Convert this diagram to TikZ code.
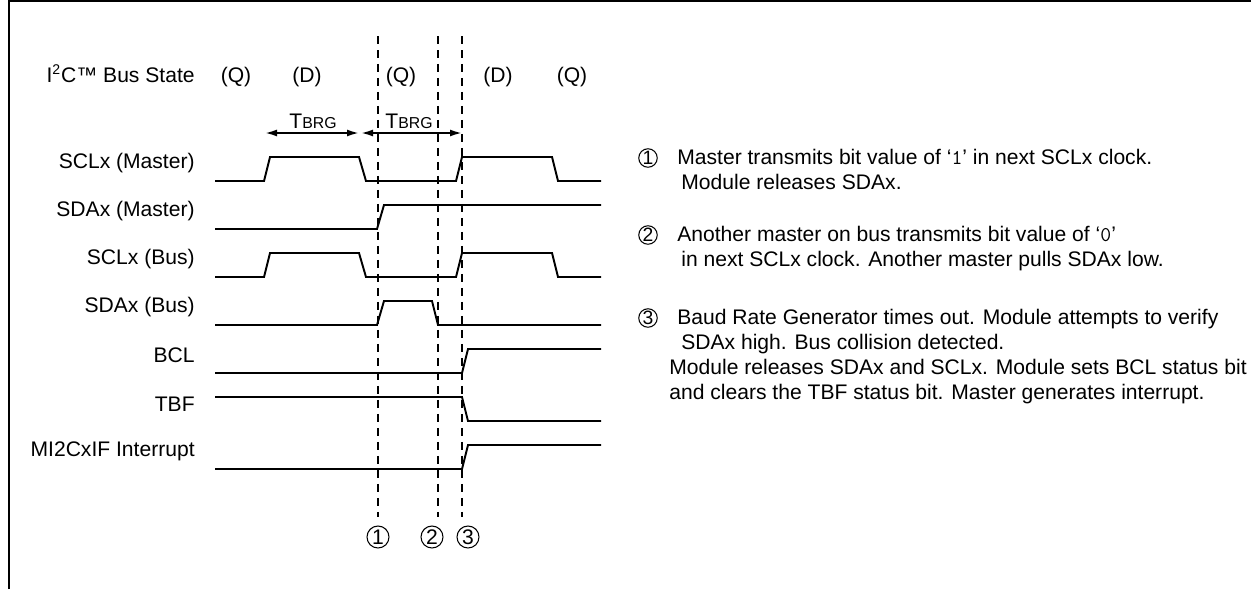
\documentclass[tikz,border=0pt]{standalone}
\usepackage{fontspec}
\setmainfont{Liberation Sans}
\usetikzlibrary{arrows.meta}

\newcommand{\tbrg}{T{\fontsize{9}{10}\selectfont BRG}}

\begin{document}
\begin{tikzpicture}[
    x=0.02cm, y=-0.02cm,
    txt/.style={inner sep=0pt, font=\fontsize{12}{14}\selectfont},
    siglabel/.style={txt, anchor=east},
    note/.style={txt, anchor=base west},
    numcirc/.style={circle, draw, line width=0.6pt, inner sep=0pt, minimum size=0.44cm, font=\fontsize{12}{12}\selectfont},
    smallcirc/.style={numcirc, minimum size=0.37cm, font=\fontsize{11}{11}\selectfont},
    wave/.style={line width=1.1pt, line join=miter},
    guide/.style={line width=1.1pt, dash pattern=on 0.16cm off 0.12cm},
    timing/.style={line width=1.1pt, {Latex[length=0.24cm,width=0.14cm]}-{Latex[length=0.24cm,width=0.14cm]}},
]
\useasboundingbox (0,0) rectangle (1251,589);

% frame
\draw[line width=1.2pt] (9,589) -- (9,1) -- (1251,1);

% bus state row
\node[txt, anchor=base east] (busstate) at (195,82) {I\textsuperscript{2}C™ Bus State};
\foreach \x/\s [count=\i] in {236/Q, 307/D, 401/Q, 498/D, 572/Q}
    \node[txt, anchor=base] (st\i) at (\x,82) {(\s)};

% baud rate generator periods
\node[txt] (tbrga) at (313,121) {\tbrg};
\node[txt] (tbrgb) at (409,121) {\tbrg};
\coordinate (ta1) at (265,133);
\coordinate (ta2) at (359,133);
\coordinate (tb1) at (361,133);
\coordinate (tb2) at (462,133);
\draw[timing] (ta1) -- (ta2);
\draw[timing] (tb1) -- (tb2);

% signal names
\node[siglabel] (sclm) at (195,163) {SCLx (Master)};
\node[siglabel] (sdam) at (195,211) {SDAx (Master)};
\node[siglabel] (sclb) at (195,259) {SCLx (Bus)};
\node[siglabel] (sdab) at (195,307) {SDAx (Bus)};
\node[siglabel] (bcl) at (195,355) {BCL};
\node[siglabel] (tbf) at (195,404) {TBF};
\node[siglabel] (mif) at (195,451) {MI2CxIF Interrupt};

% waveforms
\draw[wave] (215,181) -- (264,181) -- (270,157) -- (359,157) -- (366,181) -- (456,181)
    -- (462,157) -- (552,157) -- (558,181) -- (601,181);
\draw[wave] (215,229) -- (377,229) -- (384,205) -- (601,205);
\draw[wave] (215,277) -- (264,277) -- (270,253) -- (359,253) -- (366,277) -- (456,277)
    -- (462,253) -- (552,253) -- (558,277) -- (601,277);
\draw[wave] (215,325) -- (377,325) -- (384,301) -- (432,301) -- (438,325) -- (601,325);
\draw[wave] (215,373) -- (462,373) -- (468,349) -- (601,349);
\draw[wave] (215,397) -- (462,397) -- (468,421) -- (601,421);
\draw[wave] (215,469) -- (462,469) -- (468,445) -- (601,445);

% event markers
\foreach \x [count=\i] in {378, 438, 462} {
    \coordinate (gtop\i) at (\x,36);
    \coordinate (gbot\i) at (\x,517);
    \draw[guide] (gtop\i) -- (gbot\i);
}
\node[numcirc] (c1) at (378,537) {1};
\node[numcirc] (c2) at (432,537) {2};
\node[numcirc] (c3) at (468,537) {3};

% notes
\node[smallcirc] (n1) at (648,158) {1};
\node[note] (n1a) at (677,164) {Master transmits bit value of ‘\texttt{1}’ in next SCLx clock.};
\node[note] (n1b) at (681,189) {Module releases SDAx.};
\node[smallcirc] (n2) at (648,235) {2};
\node[note] (n2a) at (677,241) {Another master on bus transmits bit value of ‘\texttt{0}’};
\node[note] (n2b) at (681,266) {in next SCLx clock. Another master pulls SDAx low.};
\node[smallcirc] (n3) at (648,318) {3};
\node[note] (n3a) at (677,324) {Baud Rate Generator times out. Module attempts to verify};
\node[note] (n3b) at (681,349) {SDAx high. Bus collision detected.};
\node[note] (n3c) at (669,374) {Module releases SDAx and SCLx. Module sets BCL status bit};
\node[note] (n3d) at (669,399) {and clears the TBF status bit. Master generates interrupt.};

\end{tikzpicture}
\end{document}
